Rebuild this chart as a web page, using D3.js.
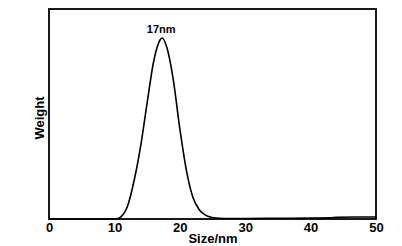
<!DOCTYPE html>
<html>
<head>
<meta charset="utf-8">
<script src="https://cdn.jsdelivr.net/npm/d3@7"></script>
<style>
  body { margin: 0; background: #fff; }
  text { font-family: "Liberation Sans", Arial, sans-serif; font-weight: bold; fill: #000; }
</style>
</head>
<body>
<svg id="chart" width="402" height="246"></svg>
<script>
// size distribution (nm) and relative weight
var sizes   = [0, 5, 10, 10.5, 11, 12, 13, 14, 15, 16, 17, 17.3, 18, 19, 20, 21, 22, 23, 24, 25, 26, 28, 30, 35, 40, 43, 44, 47, 50];
var weights = [0, 0, 0, 0.002, 0.012, 0.07, 0.21, 0.40, 0.64, 0.87, 0.99, 1.0, 0.95, 0.77, 0.50, 0.27, 0.12, 0.05, 0.02, 0.008, 0.004, 0.003, 0.003, 0.004, 0.005, 0.006, 0.01, 0.011, 0.011];
var xTicks  = [0, 10, 20, 30, 40, 50];
var peakLabel = "17nm";

var svg = d3.select('#chart');

//plot frame
var m = {left: 49, right: 376, top: 9, bottom: 219};

var x = d3.scaleLinear().domain([0, 50]).range([m.left, m.right]);
var y = d3.scaleLinear().domain([0, 1.16]).range([m.bottom, m.top]);

svg.append('rect')
    .attr('x', m.left).attr('y', m.top)
    .attr('width', m.right - m.left).attr('height', m.bottom - m.top)
    .attr('fill', 'none').attr('stroke', '#000').attr('stroke-width', 1.8);

//x tick labels (no tick marks in the original)
var xAxis = d3.axisBottom(x).tickValues(xTicks).tickSize(0).tickPadding(4);
var gx = svg.append('g').attr('transform', 'translate(0,' + m.bottom + ')').call(xAxis);
gx.select('.domain').remove();
gx.selectAll('text')
    .attr('font-size', 13)
    .attr('font-family', '"Liberation Sans", Arial, sans-serif')
    .attr('font-weight', 'bold')
    .attr('fill', '#000');

//curve
var pts = sizes.map(function(s, i){ return [s, weights[i]]; });
var line = d3.line()
    .x(function(d){ return x(d[0]); })
    .y(function(d){ return y(d[1]); })
    .curve(d3.curveMonotoneX);

svg.append('path')
    .datum(pts)
    .attr('d', line)
    .attr('fill', 'none')
    .attr('stroke', '#000')
    .attr('stroke-width', 1.6);

//peak label
svg.append('text')
    .attr('x', x(17.3) - 1).attr('y', y(1.0) - 5)
    .attr('text-anchor', 'middle')
    .attr('font-size', 11)
    .text(peakLabel);

//axis titles
svg.append('text')
    .attr('x', 213).attr('y', 243)
    .attr('text-anchor', 'middle')
    .attr('font-size', 13)
    .text('Size/nm');

svg.append('text')
    .attr('transform', 'translate(44,118) rotate(-90)')
    .attr('text-anchor', 'middle')
    .attr('font-size', 13)
    .text('Weight');
</script>
</body>
</html>
